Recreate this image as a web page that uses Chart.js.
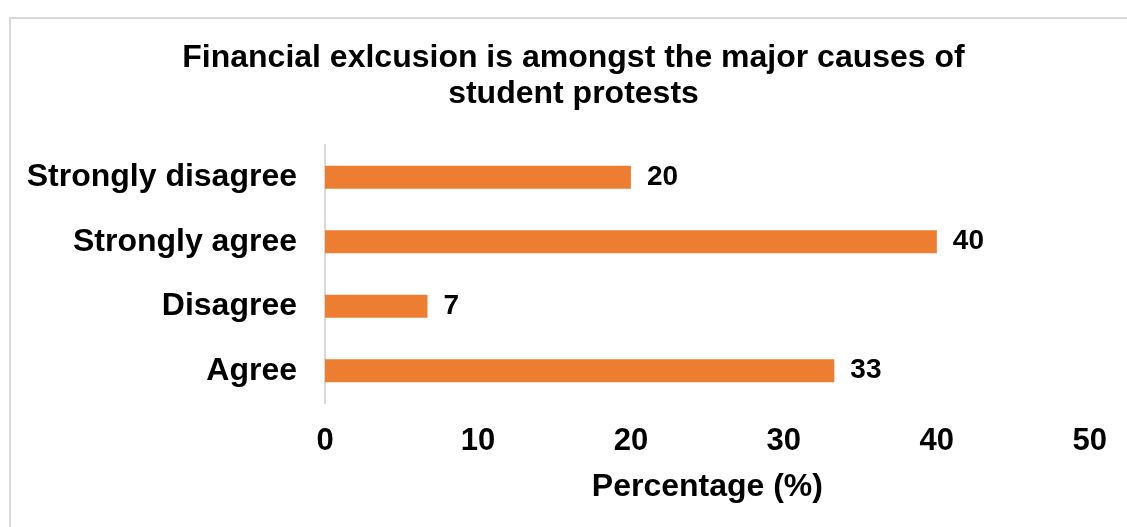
<!DOCTYPE html>
<html>
<head>
<meta charset="utf-8">
<script src="https://cdn.jsdelivr.net/npm/chart.js@4/dist/chart.umd.min.js"></script>
<style>
  html, body { margin: 0; padding: 0; background: #fff; }
  #wrap { position: relative; width: 1127px; height: 527px; overflow: hidden; }
  #frame { position: absolute; left: 9px; top: 17px; width: 1200px; height: 600px; border: 2px solid #d9d9d9; }
  #chart-protests { position: absolute; left: 0; top: 0; }
</style>
</head>
<body>
<div id="wrap">
  <div id="frame"></div>
  <canvas id="chart-protests" width="1127" height="527"></canvas>
</div>
<script>
const categories = ['Strongly disagree', 'Strongly agree', 'Disagree', 'Agree'];
const percentages = [20, 40, 6.7, 33.3];
const xTickValues = [0, 10, 20, 30, 40, 50];

const FONT = "'Liberation Sans', Arial, sans-serif";
const BAR_COLOR = '#ED7D31';

// draws rounded value labels at the end of each bar
const barValueLabels = {
  id: 'barValueLabels',
  afterDatasetsDraw(chart) {
    const ctx = chart.ctx;
    const meta = chart.getDatasetMeta(0);
    ctx.save();
    ctx.font = 'bold 28px ' + FONT;
    ctx.fillStyle = '#000';
    ctx.textAlign = 'left';
    ctx.textBaseline = 'middle';
    meta.data.forEach((bar, i) => {
      ctx.fillText(String(Math.round(percentages[i])), bar.x + 16, bar.y);
    });
    ctx.restore();
  }
};

// centre the title on the outer frame rather than on the plot box
const frameTitle = {
  id: 'frameTitle',
  afterLayout(chart) {
    if (chart.titleBlock) {
      chart.titleBlock.left = 10;
      chart.titleBlock.right = 1137;
    }
  }
};

const canvas = document.getElementById('chart-protests');
new Chart(canvas.getContext('2d'), {
  type: 'bar',
  data: {
    labels: categories,
    datasets: [{
      data: percentages,
      backgroundColor: BAR_COLOR,
      borderWidth: 0,
      barPercentage: 0.357,
      categoryPercentage: 1
    }]
  },
  options: {
    indexAxis: 'y',
    responsive: false,
    animation: false,
    layout: { padding: { left: 0, right: 35, top: 0, bottom: 20.8 } },
    plugins: {
      legend: { display: false },
      tooltip: { enabled: false },
      title: {
        display: true,
        text: ['Financial exlcusion is amongst the major causes of', 'student protests'],
        color: '#000',
        font: { family: FONT, size: 32, weight: 'bold', lineHeight: 1.125 },
        padding: { top: 40, bottom: 33 }
      }
    },
    scales: {
      x: {
        type: 'linear',
        min: 0,
        max: 50,
        afterBuildTicks: (scale) => { scale.ticks = xTickValues.map((v) => ({ value: v })); },
        afterFit: (scale) => { scale.height = 103.2; },
        grid: { display: false, drawTicks: false },
        border: { display: false },
        ticks: {
          color: '#000',
          padding: 20,
          font: { family: FONT, size: 31, weight: 'bold', lineHeight: 1.2 }
        },
        title: {
          display: true,
          text: 'Percentage (%)',
          color: '#000',
          padding: { top: 0, bottom: 0 },
          font: { family: FONT, size: 32, weight: 'bold', lineHeight: 1.2 }
        }
      },
      y: {
        afterFit: (scale) => { scale.width = 325; },
        grid: { display: false, drawTicks: false },
        border: { display: true, color: '#d9d9d9', width: 2 },
        ticks: {
          color: '#000',
          padding: 28,
          font: { family: FONT, size: 32, weight: 'bold' }
        }
      }
    }
  },
  plugins: [barValueLabels, frameTitle]
});
</script>
</body>
</html>
